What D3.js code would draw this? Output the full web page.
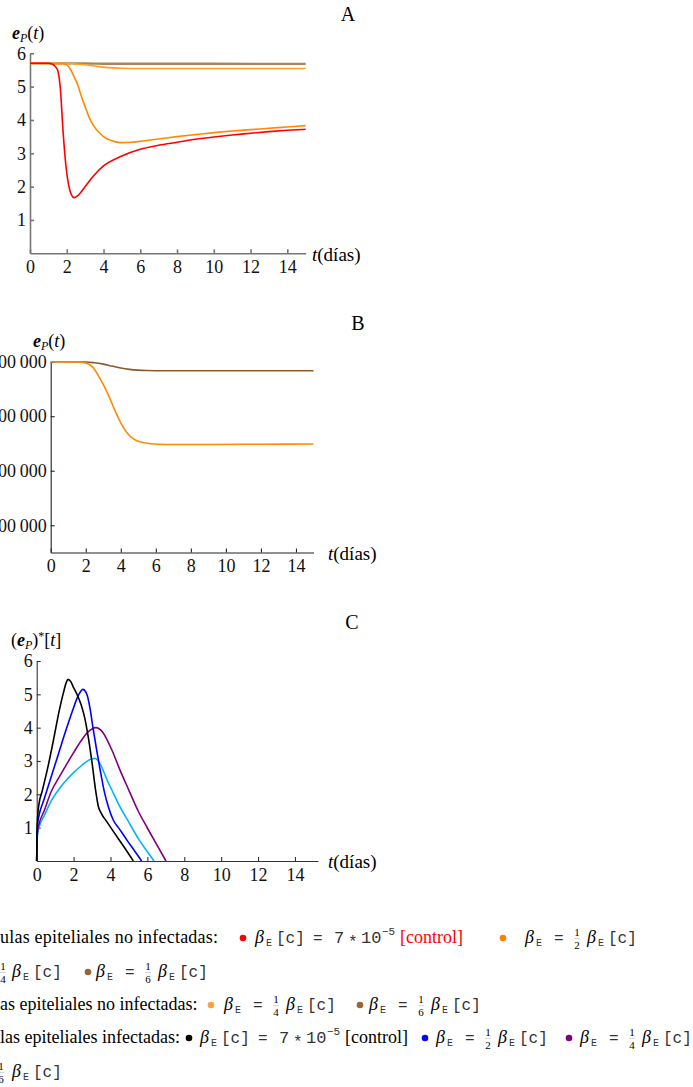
<!DOCTYPE html>
<html>
<head>
<meta charset="utf-8">
<script src="https://cdn.jsdelivr.net/npm/d3@7"></script>
<style>
body { margin: 0; background: #fff; }
</style>
</head>
<body>
<div id="chart"></div>
<script>
// ---- panel A : log10 of uninfected epithelial cells ----
const tRedA = [0, 1.0, 1.2, 1.35, 1.5, 1.65, 1.8, 1.95, 2.1, 2.25, 2.4, 2.6, 3.0, 3.5, 4, 5, 6, 7, 8, 9, 10, 11, 12, 13, 14, 15];
const eRedA = [5.7, 5.7, 5.68, 5.62, 5.5, 4.95, 3.65, 2.65, 2.05, 1.76, 1.67, 1.73, 2.0, 2.35, 2.62, 2.92, 3.12, 3.24, 3.33, 3.42, 3.49, 3.55, 3.6, 3.65, 3.69, 3.72];
const tHalfA = [0, 1.8, 2.0, 2.2, 2.4, 2.6, 2.8, 3.0, 3.2, 3.4, 3.6, 3.8, 4.0, 4.3, 4.6, 5.0, 5.5, 6, 7, 8, 9, 10, 11, 12, 13, 14, 15];
const eHalfA = [5.7, 5.69, 5.65, 5.52, 5.3, 5.05, 4.7, 4.4, 4.1, 3.88, 3.72, 3.6, 3.5, 3.41, 3.35, 3.32, 3.33, 3.36, 3.43, 3.5, 3.56, 3.62, 3.67, 3.71, 3.75, 3.79, 3.83];
const tQuarterA = [0, 2.0, 2.4, 2.8, 3.2, 3.6, 4.0, 4.5, 5.0, 5.5, 6.5, 15];
const eQuarterA = [5.699, 5.695, 5.685, 5.663, 5.642, 5.612, 5.585, 5.562, 5.55, 5.545, 5.542, 5.543];
const tSixthA = [0, 2, 3, 4, 5, 15];
const eSixthA = [5.699, 5.698, 5.693, 5.687, 5.685, 5.684];

// ---- panel B : uninfected epithelial cells ----
const tQuarterB = [0, 1.5, 2.0, 2.4, 2.8, 3.1, 3.4, 3.7, 4.0, 4.3, 4.7, 5.1, 5.6, 6.2, 7, 9, 12, 15];
const eQuarterB = [500000, 499500, 497500, 490000, 470000, 452000, 431000, 408000, 388000, 372000, 359000, 353000, 350000, 348500, 348000, 348200, 348600, 349000];
const tSixthB = [0, 2, 2.5, 3, 3.5, 4, 4.5, 5, 5.5, 6, 15];
const eSixthB = [500000, 499500, 498000, 495500, 492000, 488500, 486000, 484500, 483800, 483500, 483500];

// ---- panel C : infected epithelial cells ----
const tBlackC = [0, 0.02, 0.06, 0.12, 0.3, 0.6, 0.9, 1.2, 1.45, 1.6, 1.7, 1.85, 2.0, 2.2, 2.4, 2.6, 2.8, 3.0, 3.2, 3.35, 3.5, 3.8, 4.2, 4.7, 5.24];
const eBlackC = [0, 0.9, 1.4, 1.7, 2.1, 2.8, 3.6, 4.45, 5.05, 5.35, 5.45, 5.38, 5.2, 4.98, 4.7, 4.3, 3.7, 2.95, 2.1, 1.62, 1.43, 1.18, 0.85, 0.45, 0];
const tBlueC = [0, 0.02, 0.06, 0.12, 0.4, 0.8, 1.2, 1.6, 2.0, 2.2, 2.4, 2.5, 2.6, 2.75, 2.9, 3.05, 3.25, 3.45, 3.65, 3.9, 4.15, 4.5, 4.9, 5.3, 5.69];
const eBlueC = [0, 0.8, 1.15, 1.35, 1.85, 2.55, 3.25, 3.95, 4.6, 4.9, 5.1, 5.15, 5.12, 4.95, 4.55, 4.0, 3.33, 2.7, 2.12, 1.6, 1.23, 0.95, 0.62, 0.31, 0];
const tPurpleC = [0, 0.02, 0.06, 0.12, 0.4, 0.8, 1.2, 1.6, 2.0, 2.4, 2.8, 3.0, 3.2, 3.4, 3.6, 3.8, 4.1, 4.5, 5.0, 5.5, 6.0, 6.5, 7.01];
const ePurpleC = [0, 0.7, 0.95, 1.1, 1.5, 2.1, 2.5, 2.88, 3.25, 3.6, 3.88, 3.96, 4.0, 3.96, 3.85, 3.65, 3.3, 2.75, 2.12, 1.5, 0.99, 0.5, 0];
const tCyanC = [0, 0.02, 0.06, 0.12, 0.4, 0.8, 1.2, 1.6, 2.0, 2.4, 2.8, 3.0, 3.15, 3.3, 3.5, 3.8, 4.1, 4.5, 5.0, 5.5, 6.0, 6.36];
const eCyanC = [0, 0.6, 0.85, 1.0, 1.35, 1.82, 2.15, 2.42, 2.65, 2.85, 3.02, 3.07, 3.08, 3.03, 2.85, 2.45, 2.1, 1.64, 1.16, 0.68, 0.28, 0];

const xTicks = [0, 2, 4, 6, 8, 10, 12, 14];
const yTicksA = [1, 2, 3, 4, 5, 6];
const yTicksB = [200000, 300000, 400000, 500000];
const yTicksC = [1, 2, 3, 4, 5, 6];

const serif = "'Liberation Serif', 'Times New Roman', serif";
const mono = "'Liberation Mono', 'Courier New', monospace";

const svg = d3.select("#chart").append("svg")
  .attr("width", 693)
  .attr("height", 1087)
  .style("background", "#fff");

function put(x, y, s, font, size, opt) {
  opt = opt || {};
  var t = svg.append("text")
    .attr("x", x).attr("y", y)
    .style("font-family", font)
    .style("font-size", size + "px")
    .attr("fill", opt.fill || "#000")
    .text(s);
  if (opt.italic) t.style("font-style", "italic");
  if (opt.bold) t.style("font-weight", "bold");
  if (opt.anchor) t.attr("text-anchor", opt.anchor);
  if (opt.len) t.attr("textLength", opt.len).attr("lengthAdjust", "spacing");
  return t;
}

function panel(p) {
  var x = d3.scaleLinear().domain(p.xDom).range(p.xRng);
  var y = d3.scaleLinear().domain(p.yDom).range(p.yRng);
  var g = svg.append("g");

  var xa = g.append("g")
    .attr("transform", `translate(0,${p.yRng[0]})`)
    .call(d3.axisBottom(x).tickValues(xTicks).tickSize(-4).tickSizeOuter(0).tickPadding(7));
  var ya = g.append("g")
    .attr("transform", `translate(${p.xRng[0]},0)`)
    .call(d3.axisLeft(y).tickValues(p.yTicks).tickSize(-4).tickSizeOuter(0).tickPadding(4)
      .tickFormat(p.fmt || d3.format("d")));
  [xa, ya].forEach(a => {
    a.selectAll("path,line").attr("stroke", p.axisColor).attr("stroke-width", p.axisWidth);
    a.selectAll("text").attr("fill", "#111")
      .style("font-family", serif).style("font-size", "18px");
  });

  var line = d3.line().x(d => x(d[0])).y(d => y(d[1])).curve(d3.curveMonotoneX);
  p.series.forEach(s => {
    var pts = s.t.map((t, i) => [t, s.v[i]]);
    g.append("path").datum(pts)
      .attr("fill", "none")
      .attr("stroke", s.color)
      .attr("stroke-width", s.w || 1.6)
      .attr("d", line);
  });
}

function epLabel(x, y, starred) {
  var l = put(x, y, "", serif, 18);
  if (starred) l.append("tspan").text("(");
  l.append("tspan").style("font-style", "italic").style("font-weight", "bold").text("e");
  l.append("tspan").style("font-style", "italic").style("font-size", "12px").attr("dy", 3).text("P");
  if (starred) {
    l.append("tspan").attr("dy", -3).text(")");
    l.append("tspan").style("font-size", "12px").attr("dy", -6).text("*");
    l.append("tspan").attr("dy", 6).text("[");
    l.append("tspan").style("font-style", "italic").text("t");
    l.append("tspan").text("]");
  } else {
    l.append("tspan").attr("dy", -3).text("(");
    l.append("tspan").style("font-style", "italic").text("t");
    l.append("tspan").text(")");
  }
}
function tLabel(x, y) {
  var l = put(x, y, "", serif, 19);
  l.append("tspan").style("font-style", "italic").text("t");
  l.append("tspan").text("(días)");
}

// ---------- A ----------
panel({
  xDom: [0, 15], xRng: [30, 305.7],
  yDom: [0, 6], yRng: [253.3, 53.3],
  yTicks: yTicksA, axisColor: "#777", axisWidth: 1.6,
  series: [
    {t: tSixthA, v: eSixthA, color: "#a8855e", w: 2.4},
    {t: tQuarterA, v: eQuarterA, color: "#ffa020"},
    {t: tHalfA, v: eHalfA, color: "#ff8a00"},
    {t: tRedA, v: eRedA, color: "#ff0000"}
  ]
});
put(348, 21, "A", serif, 20, {anchor: "middle"});
epLabel(12, 39, false);
tLabel(312, 261);

// ---------- B ----------
panel({
  xDom: [0, 15], xRng: [50.7, 313.5],
  yDom: [150000, 500000], yRng: [552.5, 361.7],
  yTicks: yTicksB, axisColor: "#222", axisWidth: 1.1,
  fmt: d => d3.format(",")(d).replace(/,/g, "\u2009"),
  series: [
    {t: tSixthB, v: eSixthB, color: "#8b5a2b"},
    {t: tQuarterB, v: eQuarterB, color: "#ff8c00"}
  ]
});
put(358, 330, "B", serif, 20, {anchor: "middle"});
epLabel(33, 347, false);
tLabel(328, 560);

// ---------- C ----------
panel({
  xDom: [0, 15.25], xRng: [36.7, 318],
  yDom: [0, 6], yRng: [861, 661],
  yTicks: yTicksC, axisColor: "#333", axisWidth: 1.1,
  series: [
    {t: tCyanC, v: eCyanC, color: "#00b4ff"},
    {t: tPurpleC, v: ePurpleC, color: "#800080"},
    {t: tBlueC, v: eBlueC, color: "#0000ff"},
    {t: tBlackC, v: eBlackC, color: "#000"}
  ]
});
put(352, 629, "C", serif, 20, {anchor: "middle"});
epLabel(11, 646, true);
tLabel(328, 868);

// ---------- legend ----------
function dot(cx, y, color) {
  svg.append("circle").attr("cx", cx).attr("cy", y - 5).attr("r", 3.3).attr("fill", color);
}
function betaE(x, y) {
  put(x, y, "β", serif, 18, {italic: true});
  put(x + 11, y + 3, "E", mono, 10, {fill: "#333"});
}
function betaEc(x, y) {
  betaE(x, y);
  put(x + 21, y, "[c]", mono, 16, {fill: "#333"});
}
function frac(cx, y, n, d) {
  put(cx, y - 7, n, serif, 11, {anchor: "middle"});
  put(cx, y + 6, d, serif, 11, {anchor: "middle"});
  svg.append("line").attr("x1", cx - 3).attr("x2", cx + 3)
    .attr("y1", y - 4.5).attr("y2", y - 4.5)
    .attr("stroke", "#bbb").attr("stroke-width", 0.6);
}
function eqFrac(x, y, n, d) {
  // βE = n/d βE[c]
  betaE(x, y);
  put(x + 29, y, "=", mono, 16, {fill: "#333"});
  frac(x + 52, y, n, d);
  betaEc(x + 62, y);
}
function control(x, y, color) {
  put(x, y, "=", mono, 16, {fill: "#333"});
  put(x + 21, y, "7", mono, 17, {fill: "#333"});
  put(x + 35, y + 4, "*", mono, 16, {fill: "#333"});
  put(x + 48, y, "10", mono, 17, {fill: "#333"});
  put(x + 69, y - 8, "\u22125", mono, 11, {fill: "#333"});
  put(x + 87, y, "[control]", serif, 18, {fill: color});
}

var r1 = 943, r2 = 977, r3 = 1010, r4 = 1043, r5 = 1077;

put(0, r1, "ulas epiteliales no infectadas:", serif, 18, {len: 218});
dot(243, r1, "#ff0000");
betaEc(255, r1);
control(313, r1, "#ff0000");
dot(503, r1, "#ff8000");
eqFrac(525, r1, "1", "2");

frac(3, r2, "1", "4");
betaEc(12, r2);
dot(88, r2, "#996633");
eqFrac(96, r2, "1", "6");

put(0, r3, "as epiteliales no infectadas:", serif, 18);
dot(211, r3, "#ffa040");
eqFrac(224, r3, "1", "4");
dot(360, r3, "#996633");
eqFrac(369, r3, "1", "6");

put(0, r4, "las epiteliales infectadas:", serif, 18);
dot(189, r4, "#000");
betaEc(200, r4);
control(258, r4, "#000");
dot(425, r4, "#0000ff");
eqFrac(436, r4, "1", "2");
dot(569, r4, "#800080");
eqFrac(580, r4, "1", "4");

frac(1, r5, "1", "6");
betaEc(12, r5);
</script>
</body>
</html>
